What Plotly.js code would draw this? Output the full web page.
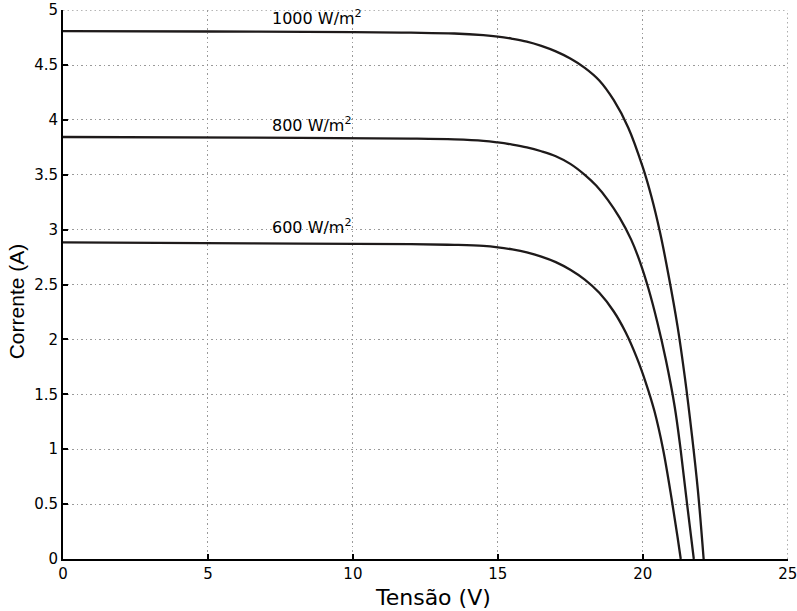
<!DOCTYPE html>
<html>
<head>
<meta charset="utf-8">
<script src="https://cdn.plot.ly/plotly-3.0.1.min.js"></script>
<style>html,body{margin:0;padding:0;background:#fff;}#chart{width:797px;height:611px;}</style>
</head>
<body>
<div id="chart"></div>
<script>
// Tensão (V) and Corrente (A)
const v1000 = [0, 5, 10, 12, 13.5, 14.5, 15, 15.5, 16, 16.5, 17, 17.5, 18, 18.5, 19, 19.5, 20, 20.3, 20.6, 20.9, 21.2, 21.45, 21.7, 21.9, 22.1];
const i1000 = [4.81, 4.806, 4.8, 4.795, 4.788, 4.773, 4.76, 4.74, 4.714, 4.675, 4.625, 4.56, 4.475, 4.36, 4.18, 3.93, 3.57, 3.3, 2.97, 2.57, 2.12, 1.66, 1.12, 0.63, 0];

const v800 = [0, 6.5, 12, 13.5, 14.5, 15, 15.5, 16, 16.5, 17, 17.5, 18, 18.4, 18.8, 19.2, 19.6, 19.9, 20.2, 20.5, 20.8, 21.1, 21.3, 21.52, 21.76];
const i800 = [3.845, 3.84, 3.83, 3.823, 3.81, 3.795, 3.775, 3.75, 3.715, 3.67, 3.6, 3.5, 3.4, 3.27, 3.11, 2.91, 2.71, 2.46, 2.16, 1.81, 1.39, 1.01, 0.52, 0];

const v600 = [0, 6.5, 12, 13.5, 14.5, 15, 15.5, 16, 16.5, 17, 17.5, 18, 18.5, 19, 19.4, 19.8, 20.1, 20.4, 20.7, 21.0, 21.2, 21.31];
const i600 = [2.885, 2.875, 2.868, 2.862, 2.853, 2.84, 2.82, 2.793, 2.755, 2.705, 2.635, 2.545, 2.425, 2.255, 2.07, 1.83, 1.61, 1.35, 1.0, 0.54, 0.2, 0];

const labels = ["1000 W/m<sup>2</sup>", "800 W/m<sup>2</sup>", "600 W/m<sup>2</sup>"];
const labelX = [8.75, 8.6, 8.6];
const labelY = [4.935, 3.96, 3.03];

const xTicks = [0, 5, 10, 15, 20, 25];
const yTicks = [0, 0.5, 1, 1.5, 2, 2.5, 3, 3.5, 4, 4.5, 5];

const lineStyle = {color: '#1e1a1a', width: 2.3, shape: 'spline', smoothing: 1};
const traces = [[v1000, i1000], [v800, i800], [v600, i600]].map(([x, y]) => ({
  x, y, type: 'scatter', mode: 'lines', line: lineStyle, hoverinfo: 'skip'
}));

const wide = 'DejaVu Sans, Verdana, sans-serif';
const narrow = 'Liberation Sans, Arial, sans-serif';
const gridStyle = {color: '#999999', width: 1, dash: '1.5px,3px'};
const layout = {
  width: 797, height: 611,
  margin: {l: 62.5, r: 9.3, t: 10, b: 52.3},
  paper_bgcolor: '#fff', plot_bgcolor: '#fff',
  showlegend: false,
  font: {family: wide, size: 15, color: '#000'},
  xaxis: {
    range: [0, 25.01], tickvals: xTicks, ticktext: xTicks.map(String),
    showline: true, linecolor: '#000', linewidth: 2,
    ticks: 'inside', ticklen: 5, tickwidth: 2, tickcolor: '#000',
    showgrid: true, gridcolor: '#999999', griddash: '1.5px,3px', gridwidth: 1,
    zeroline: false, tickfont: {family: wide, size: 15, color: '#000'},
    ticklabeloverflow: 'allow'
  },
  yaxis: {
    range: [0, 5.002], tickvals: yTicks, ticktext: yTicks.map(String),
    showline: true, linecolor: '#000', linewidth: 2,
    ticks: 'inside', ticklen: 5, tickwidth: 2, tickcolor: '#000',
    showgrid: true, gridcolor: '#999999', griddash: '1.5px,3px', gridwidth: 1,
    zeroline: false, tickfont: {family: wide, size: 15, color: '#000'},
    ticklabeloverflow: 'allow'
  },
  shapes: [
    {type: 'line', xref: 'x', yref: 'y', x0: xTicks[xTicks.length - 1], x1: xTicks[xTicks.length - 1], y0: 0, y1: yTicks[yTicks.length - 1], line: gridStyle, layer: 'below'},
    {type: 'line', xref: 'x', yref: 'y', x0: 0, x1: xTicks[xTicks.length - 1], y0: yTicks[yTicks.length - 1], y1: yTicks[yTicks.length - 1], line: gridStyle, layer: 'below'}
  ],
  annotations: labels.map((t, k) => ({
    x: labelX[k], y: labelY[k], xref: 'x', yref: 'y', text: t,
    showarrow: false, font: {family: wide, size: 16, color: '#000'},
    xanchor: 'center', yanchor: 'middle'
  })).concat([
    {text: 'Tensão (V)', xref: 'paper', yref: 'paper', x: 0.511, y: -0.07,
     xanchor: 'center', yanchor: 'middle', showarrow: false,
     font: {family: wide, size: 22, color: '#000'}},
    {text: 'Corrente (A)', xref: 'paper', yref: 'paper', x: -0.063, y: 0.47,
     xanchor: 'center', yanchor: 'middle', showarrow: false, textangle: -90,
     font: {family: narrow, size: 21, color: '#000'}}
  ])
};

Plotly.newPlot('chart', traces, layout, {staticPlot: true});
</script>
</body>
</html>
